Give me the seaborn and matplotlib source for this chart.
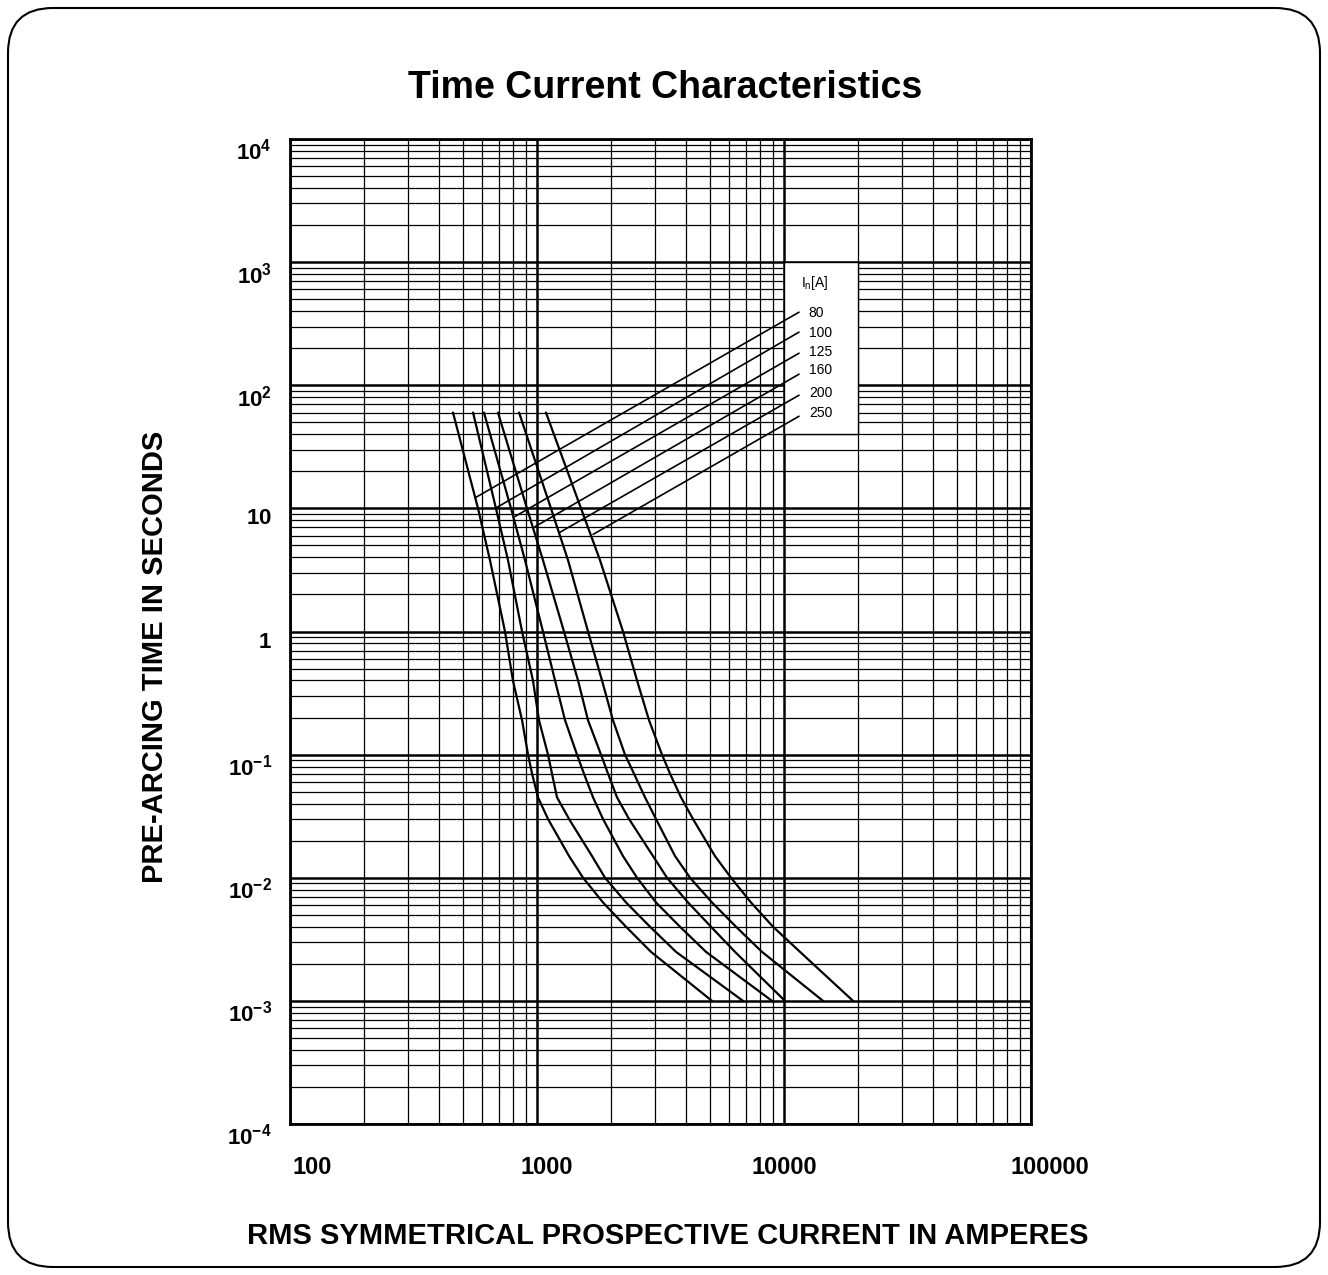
#!/usr/bin/env python3
"""
Time current characteristics of gG fuse links (pre-arcing time vs prospective current)
"""

import numpy as np
import pandas as pd
import matplotlib
matplotlib.use('Agg')
import matplotlib.pyplot as plt
import seaborn as sns
from matplotlib.patches import FancyBboxPatch, Rectangle
from matplotlib.ticker import FixedLocator, NullFormatter
from matplotlib.transforms import offset_copy

# fuse ratings in A
ratings = [80, 100, 125, 160, 200, 250]

# pre-arcing time levels (s) where the curves were read
times = [60, 10, 3.8, 1, 0.4, 0.19, 0.1, 0.07, 0.045, 0.03, 0.015, 0.01,
         0.0063, 0.004, 0.0025, 0.001]

# prospective current (A) for each rating at the time levels above
current_80 = [457, 577, 645, 742, 799, 870, 920, 955, 1009, 1108, 1348, 1536,
              1850, 2293, 2894, 5110]
current_100 = [551, 682, 763, 870, 963, 1019, 1108, 1150, 1205, 1348, 1670, 1885,
               2293, 2868, 3655, 6823]
current_125 = [610, 785, 894, 1057, 1183, 1299, 1452, 1549, 1686, 1850, 2229, 2541,
               3032, 3793, 4834, 8942]
current_160 = [695, 911, 1057, 1286, 1466, 1609, 1816, 1939, 2108, 2358, 2949, 3360,
               4087, 5064, 6333, 10093]
current_200 = [846, 1139, 1335, 1609, 1833, 2031, 2271, 2470, 2737, 3032, 3621, 4164,
               5110, 6393, 8145, 14387]
current_250 = [1087, 1507, 1799, 2229, 2541, 2842, 3207, 3456, 3828, 4281, 5255, 6102,
               7350, 9027, 11610, 19030]

# leader lines from each curve to its label
leader_start_current = [566, 689, 815, 981, 1239, 1687]
leader_start_time = [12.3, 10.2, 8.6, 7.1, 6.4, 6.15]
leader_end_current = 11500
leader_end_time = [392, 270, 182, 123, 83, 56]
label_current = 12600
label_time = [385, 265, 185, 132, 86, 60]

# label box area
box_current = [10000, 20000]
box_time = [40, 1000]

# axis ticks
x_ticks = [100, 1000, 10000, 100000]
x_tick_labels = ['100', '1000', '10000', '100000']
x_label_shift = [22, 10, 0, 19]   # px, labels in the original sit a bit right
y_exponents = [-4, -3, -2, -1, 0, 1, 2, 3, 4]

sns.set_style('white', {'text.color': 'black', 'xtick.color': 'black',
                        'ytick.color': 'black', 'axes.labelcolor': 'black'})
plt.rcParams['font.family'] = ['Liberation Sans', 'DejaVu Sans']
plt.rcParams['mathtext.fontset'] = 'custom'
plt.rcParams['mathtext.rm'] = 'Liberation Sans'
plt.rcParams['mathtext.bf'] = 'Liberation Sans:bold'


def main():
    fig = plt.figure(figsize=(13.28, 12.75), dpi=100)
    fig.patch.set_facecolor('white')
    ax = fig.add_axes([290 / 1328, 151 / 1275, 741 / 1328, 985 / 1275])
    ax.set_xscale('log')
    ax.set_yscale('log')

    currents = [current_80, current_100, current_125, current_160, current_200, current_250]
    df = pd.concat([pd.DataFrame({'current': c, 'time': times, 'rating': r})
                    for r, c in zip(ratings, currents)], ignore_index=True)

    sns.lineplot(data=df, x='current', y='time', hue='rating',
                 palette={r: 'black' for r in ratings}, sort=False,
                 estimator=None, linewidth=1.6, legend=False, ax=ax, zorder=3)
    ax.set_xlabel('')
    ax.set_ylabel('')

    # white label box
    ax.add_patch(Rectangle((box_current[0], box_time[0]),
                           box_current[1] - box_current[0], box_time[1] - box_time[0],
                           facecolor='white', edgecolor='black', linewidth=1.0, zorder=2))

    for i, r in enumerate(ratings):
        ax.plot([leader_start_current[i], leader_end_current],
                [leader_start_time[i], leader_end_time[i]],
                color='black', linewidth=1.2, zorder=3)
        ax.text(label_current, label_time[i], str(r), fontsize=10,
                va='center', ha='left', zorder=4)
    ax.text(11700, 676, r'I$_\mathregular{n}$[A]', fontsize=10, va='center', ha='left', zorder=4)

    ax.set_xlim(100, 100000)
    ax.set_ylim(1e-4, 1e4)

    ax.xaxis.set_major_locator(FixedLocator(x_ticks))
    ax.xaxis.set_minor_locator(FixedLocator(
        [m * 10.0 ** e for e in range(2, 5) for m in range(2, 10)]))
    ax.set_xticklabels([''] * len(x_ticks))
    ax.xaxis.set_minor_formatter(NullFormatter())
    for xt, lab, dx in zip(x_ticks, x_tick_labels, x_label_shift):
        tr = offset_copy(ax.get_xaxis_transform(), fig=fig, x=dx, y=-43, units='dots')
        ax.text(xt, 0, lab, transform=tr, fontsize=17, fontweight='bold',
                ha='center', va='center', clip_on=False)

    y_ticks = [10.0 ** e for e in y_exponents]
    y_labels = []
    for e in y_exponents:
        if e == 0:
            y_labels.append(r'$\mathbf{1}$')
        elif e == 1:
            y_labels.append(r'$\mathbf{10}$')
        else:
            y_labels.append(r'$\mathbf{10^{%d}}$' % e)
    ax.yaxis.set_major_locator(FixedLocator(y_ticks))
    ax.yaxis.set_minor_locator(FixedLocator(
        [m * 10.0 ** e for e in range(-4, 4) for m in range(2, 10)]))
    ax.set_yticklabels(y_labels, fontsize=16, va='top')
    ax.yaxis.set_minor_formatter(NullFormatter())

    ax.tick_params(which='both', length=0)
    ax.tick_params(axis='y', pad=13)

    ax.grid(which='major', color='black', linewidth=1.8)
    ax.grid(which='minor', color='black', linewidth=0.9)
    ax.set_axisbelow(True)
    for sp in ax.spines.values():
        sp.set_color('black')
        sp.set_linewidth(2)

    fig.text(665 / 1328, 1 - 88 / 1275, 'Time Current Characteristics',
             fontsize=27, fontweight='bold', ha='center', va='center')
    fig.text(668 / 1328, 1 - 1236 / 1275, 'RMS SYMMETRICAL PROSPECTIVE CURRENT IN AMPERES',
             fontsize=21, fontweight='bold', ha='center', va='center')
    fig.text(155 / 1328, 1 - 657 / 1275, 'PRE-ARCING TIME IN SECONDS',
             fontsize=21, fontweight='bold', ha='center', va='center', rotation=90)

    # rounded outer frame
    frame = FancyBboxPatch((0.08, 0.08), 13.12, 12.59,
                           boxstyle='round,pad=0,rounding_size=0.45',
                           transform=fig.dpi_scale_trans, fill=False,
                           edgecolor='black', linewidth=1.5)
    fig.add_artist(frame)

    fig.savefig('out.png', dpi=100)
    plt.close(fig)


if __name__ == "__main__":
    main()
